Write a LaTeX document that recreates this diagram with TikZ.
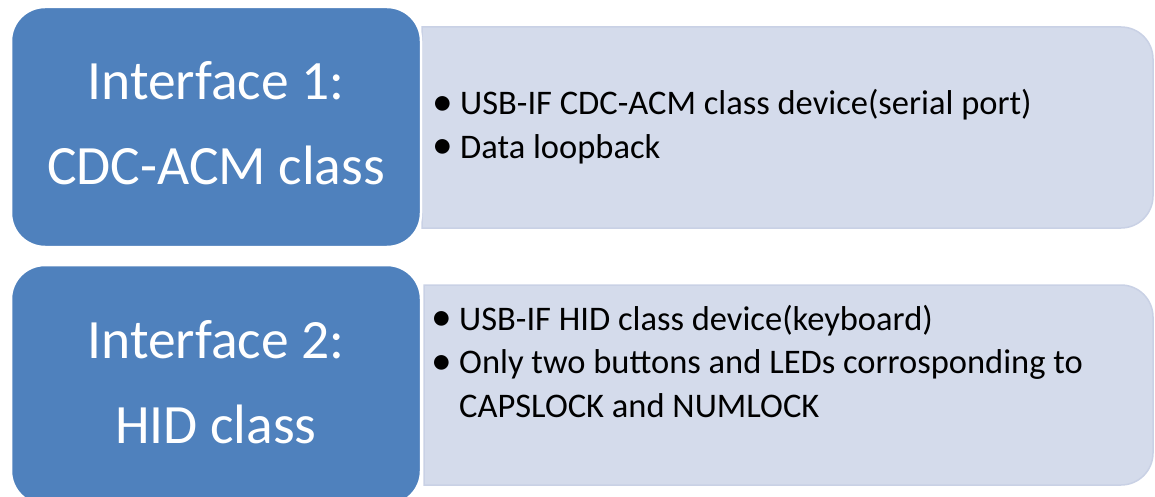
\documentclass[tikz,border=0pt]{standalone}
\usepackage{fontspec}
\setmainfont{Carlito}
\usepackage{graphicx}

\definecolor{ifblue}{HTML}{4F81BD}
\definecolor{detailfill}{HTML}{D4DBEB}
\definecolor{detailedge}{HTML}{C9D1E5}

\tikzset{
  ifbox/.style={fill=ifblue, draw=white, line width=2.5pt, rounded corners=34pt},
  iflabel/.style={text=white, align=center, font=\fontsize{55.5}{85}\selectfont, inner sep=0pt},
  detailpanel/.style={fill=detailfill, draw=detailedge, line width=1.5pt},
  detailtext/.style={anchor=base west, inner sep=0pt, text=black, font=\fontsize{34.5}{43.5}\selectfont},
}

\newcommand{\bul}{\makebox[23pt][l]{\hspace{-5pt}\raisebox{-0.5pt}{\scalebox{1.2}{\textbullet}}}}
\newcommand{\itemlist}[1]{\begin{tabular}[t]{@{}l@{}l@{}}#1\end{tabular}}

\begin{document}
\begin{tikzpicture}[x=1pt, y=-1pt]
  \useasboundingbox (0,0) rectangle (1155,497);
  \clip (0,0) rectangle (1155,497);

  % detail panels: square on the left, rounded on the right
  \coordinate (p1nw) at (422,27);
  \coordinate (p1se) at (1153,228);
  \path[detailpanel] (p1nw |- p1se) -- (p1nw) [rounded corners=32pt] -- (p1se |- p1nw) -- (p1se) [sharp corners] -- cycle;
  \coordinate (p2nw) at (424,285);
  \coordinate (p2se) at (1153,485);
  \path[detailpanel] (p2nw |- p2se) -- (p2nw) [rounded corners=32pt] -- (p2se |- p2nw) -- (p2se) [sharp corners] -- cycle;

  % interface boxes
  \path[ifbox] (11,7) rectangle (421,247);
  \path[ifbox] (11,265) rectangle (421,505);

  % interface titles
  \node[iflabel, anchor=base] (t1a) at (216,100) {Interface 1:};
  \node[iflabel, anchor=base] (t1b) at (216,185) {CDC-ACM class};
  \node[iflabel, anchor=base] (t2a) at (216,358) {Interface 2:};
  \node[iflabel, anchor=base] (t2b) at (216,443) {HID class};

  % interface details
  \node[detailtext] (d1) at (437,115) {\itemlist{\bul & USB-IF CDC-ACM class device(serial port)\\
    \bul & Data loopback}};
  \node[detailtext] (d2) at (436,330) {\itemlist{\bul & USB-IF HID class device(keyboard)\\
    \bul & Only two buttons and LEDs corrosponding to\\
    & CAPSLOCK and NUMLOCK}};
\end{tikzpicture}
\end{document}
